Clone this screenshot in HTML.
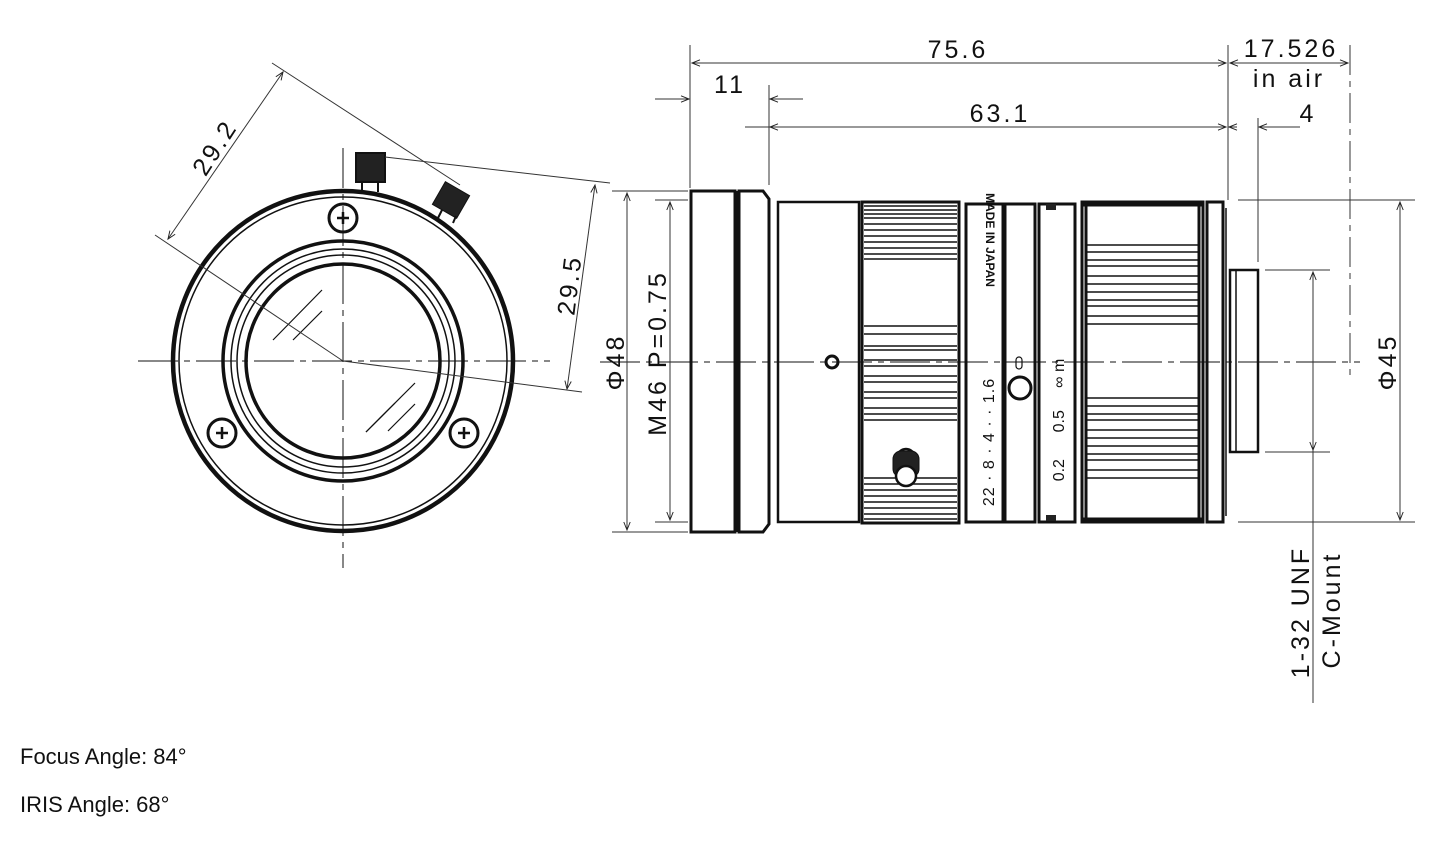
<!DOCTYPE html>
<html><head><meta charset="utf-8"><style>
html,body{margin:0;padding:0;background:#fff;width:1445px;height:848px;overflow:hidden}
svg{position:absolute;left:0;top:0}
.t{font-family:"Liberation Sans",sans-serif;font-size:22px;position:absolute;left:20px;color:#111}
</style></head><body>
<svg width="1445" height="848" viewBox="0 0 1445 848">
<defs>
<marker id="a" viewBox="0 0 10 10" refX="10" refY="5" markerWidth="12" markerHeight="8" orient="auto-start-reverse" markerUnits="userSpaceOnUse"><path d="M0,1 L10,5 L0,9" fill="none" stroke="#222" stroke-width="1.2"/></marker>
</defs>
<g fill="none" stroke="#111" font-family="Liberation Sans, sans-serif">
<!-- FRONT VIEW -->
<line x1="138" y1="361" x2="550" y2="361" stroke-width="1" stroke-dasharray="40,6,6,6"/>
<line x1="343" y1="148" x2="343" y2="568" stroke-width="1" stroke-dasharray="40,6,6,6"/>
<circle cx="343" cy="361" r="170" stroke-width="4.5"/>
<circle cx="343" cy="361" r="164" stroke-width="1.5"/>
<circle cx="343" cy="361" r="120" stroke-width="3.5"/>
<circle cx="343" cy="361" r="112" stroke-width="1.5"/>
<circle cx="343" cy="361" r="106" stroke-width="1.5"/>
<circle cx="343" cy="361" r="97" stroke-width="3.5"/>
<g stroke-width="1.2"><line x1="273" y1="340" x2="322" y2="290"/><line x1="293" y1="340" x2="322" y2="311"/><line x1="366" y1="432" x2="395" y2="403"/><line x1="366" y1="432" x2="415" y2="383"/><line x1="388" y1="431" x2="415" y2="404"/></g>
<g stroke-width="3"><circle cx="343" cy="218" r="14"/><circle cx="222" cy="433" r="14"/><circle cx="464" cy="433" r="14"/></g>
<g stroke-width="2.5"><path d="M337,218h12M343,212v12M216,433h12M222,427v12M458,433h12M464,427v12"/></g>
<rect x="356" y="153" width="29" height="29" fill="#222" stroke-width="2"/>
<path d="M362,182v10M378,182v10" stroke-width="2"/>
<rect x="437" y="187" width="28" height="26" fill="#222" transform="rotate(30 451 200)"/>
<path d="M442,210l-4,8M456,216l-3,7" stroke-width="2"/>
<g stroke-width="1" stroke="#333">
<line x1="272" y1="63" x2="460" y2="185"/>
<line x1="155" y1="235" x2="343" y2="361"/>
<line x1="283" y1="72" x2="168" y2="239" marker-start="url(#a)" marker-end="url(#a)"/>
<line x1="385" y1="157" x2="610" y2="183"/>
<line x1="343" y1="361" x2="582" y2="392"/>
<line x1="595" y1="185" x2="567" y2="389" marker-start="url(#a)" marker-end="url(#a)"/>
</g>
<text x="0" y="0" transform="translate(222,152) rotate(-57)" font-size="25" letter-spacing="3" fill="#111" stroke="none" text-anchor="middle">29.2</text>
<text x="0" y="0" transform="translate(578,286) rotate(-83)" font-size="25" letter-spacing="3" fill="#111" stroke="none" text-anchor="middle">29.5</text>

<!-- SIDE VIEW -->
<line x1="600" y1="362" x2="1360" y2="362" stroke-width="1" stroke-dasharray="40,6,6,6"/>
<rect x="691" y="191" width="44" height="341" stroke-width="3"/>
<path d="M739,191h24l6,8v325l-6,8h-24z" stroke-width="3"/>
<line x1="737" y1="191" x2="737" y2="532" stroke-width="3"/>
<rect x="778" y="202" width="81" height="320" stroke-width="2.5"/>
<circle cx="832" cy="362" r="6" stroke-width="3"/>
<rect x="862" y="202" width="97" height="321" stroke-width="3"/>
<g stroke-width="1.5">
<path d="M864,206h93M864,210h93M864,214h93M864,218h93M864,224h93M864,230h93M864,236h93M864,242h93M864,248h93M864,254h93M864,259h93"/>
<path d="M864,326h93M864,334h93M864,346h93M864,350h93M864,360h93M864,366h93M864,376h93M864,382h93M864,392h93M864,398h93M864,408h93M864,414h93M864,420h93"/>
<path d="M864,478h93M864,484h93M864,490h93M864,496h93M864,502h93M864,508h93M864,514h93M864,519h93"/>
</g>
<circle cx="906" cy="458" r="9" stroke-width="2.5"/>
<rect x="893" y="451" width="26" height="26" rx="8" fill="#222"/>
<circle cx="906" cy="476" r="10" fill="#fff" stroke-width="2.5"/>
<rect x="966" y="204" width="37" height="318" stroke-width="3"/>
<rect x="1005" y="204" width="30" height="318" stroke-width="3"/>
<rect x="1039" y="204" width="36" height="318" stroke-width="3"/>
<rect x="1046" y="204" width="10" height="6" fill="#222" stroke="none"/>
<rect x="1046" y="515" width="10" height="6" fill="#222" stroke="none"/>
<circle cx="1020" cy="388" r="11" stroke-width="3"/>
<rect x="1016" y="357" width="6" height="12" rx="3" stroke-width="1.2"/>
<g fill="#111" stroke="none" font-family="Liberation Sans Narrow, Liberation Sans, sans-serif">
<text transform="translate(986,240) rotate(90)" text-anchor="middle" font-size="12" font-weight="bold">MADE IN JAPAN</text>
<text transform="translate(994,442) rotate(-90)" text-anchor="middle" font-size="16" letter-spacing="1">22 · 8 · 4 · · 1.6</text>
<text transform="translate(1064,420) rotate(-90)" text-anchor="middle" font-size="16" xml:space="preserve">0.2      0.5     ∞ m</text>
</g>
<rect x="1082" y="202" width="121" height="320" stroke-width="3"/>
<path d="M1082,205h121M1082,519h121M1086,202v320M1199,202v320" stroke-width="3"/>
<g stroke-width="1.5">
<path d="M1086,245h113M1086,252h113M1086,260h113M1086,266h113M1086,276h113M1086,284h113M1086,292h113M1086,300h113M1086,306h113M1086,316h113M1086,324h113"/>
<path d="M1086,398h113M1086,406h113M1086,414h113M1086,420h113M1086,430h113M1086,438h113M1086,446h113M1086,454h113M1086,460h113M1086,470h113M1086,478h113"/>
</g>
<rect x="1207" y="202" width="16" height="320" stroke-width="3"/>
<line x1="1226" y1="208" x2="1226" y2="516" stroke-width="1.5"/>
<rect x="1230" y="270" width="28" height="182" stroke-width="2.5"/>
<line x1="1236" y1="270" x2="1236" y2="452" stroke-width="1.5"/>
<g stroke-width="1" stroke="#333">
<line x1="690" y1="45" x2="690" y2="188"/>
<line x1="1228" y1="45" x2="1228" y2="200"/>
<line x1="769" y1="85" x2="769" y2="185"/>
<line x1="1258" y1="118" x2="1258" y2="262"/>
<line x1="1350" y1="45" x2="1350" y2="378" stroke-dasharray="30,6,6,6"/>
<line x1="692" y1="63" x2="1226" y2="63" marker-start="url(#a)" marker-end="url(#a)"/>
<line x1="1230" y1="63" x2="1348" y2="63" marker-start="url(#a)" marker-end="url(#a)"/>
<line x1="655" y1="99" x2="689" y2="99" marker-end="url(#a)"/>
<line x1="803" y1="99" x2="770" y2="99" marker-end="url(#a)"/>
<line x1="745" y1="127" x2="770" y2="127"/>
<line x1="770" y1="127" x2="1226" y2="127" marker-start="url(#a)" marker-end="url(#a)"/>
<line x1="1237" y1="127" x2="1229" y2="127" marker-end="url(#a)"/>
<line x1="1300" y1="127" x2="1259" y2="127" marker-end="url(#a)"/>
<line x1="612" y1="191" x2="688" y2="191"/>
<line x1="612" y1="532" x2="688" y2="532"/>
<line x1="655" y1="200" x2="688" y2="200"/>
<line x1="655" y1="522" x2="688" y2="522"/>
<line x1="627" y1="193" x2="627" y2="530" marker-start="url(#a)" marker-end="url(#a)"/>
<line x1="670" y1="202" x2="670" y2="520" marker-start="url(#a)" marker-end="url(#a)"/>
<line x1="1238" y1="200" x2="1415" y2="200"/>
<line x1="1238" y1="522" x2="1415" y2="522"/>
<line x1="1400" y1="202" x2="1400" y2="520" marker-start="url(#a)" marker-end="url(#a)"/>
<line x1="1265" y1="270" x2="1330" y2="270"/>
<line x1="1265" y1="452" x2="1330" y2="452"/>
<line x1="1313" y1="272" x2="1313" y2="450" marker-start="url(#a)" marker-end="url(#a)"/>
<line x1="1313" y1="450" x2="1313" y2="703"/>
</g>
<g fill="#111" stroke="none" font-size="25" letter-spacing="3">
<text x="958" y="58" text-anchor="middle">75.6</text>
<text x="1291" y="57" text-anchor="middle">17.526</text>
<text x="1289" y="87" text-anchor="middle">in air</text>
<text x="730" y="93" text-anchor="middle">11</text>
<text x="1000" y="122" text-anchor="middle">63.1</text>
<text x="1308" y="122" text-anchor="middle">4</text>
<text transform="translate(624,362) rotate(-90)" text-anchor="middle">Φ48</text>
<text transform="translate(666,353) rotate(-90)" text-anchor="middle">M46 P=0.75</text>
<text transform="translate(1396,362) rotate(-90)" text-anchor="middle">Φ45</text>
<text transform="translate(1309,612) rotate(-90)" text-anchor="middle">1-32 UNF</text>
<text transform="translate(1340,610) rotate(-90)" text-anchor="middle">C-Mount</text>
</g>
</g>
</svg>
<div class="t" style="top:744px">Focus Angle: 84°</div>
<div class="t" style="top:792px">IRIS Angle: 68°</div>
</body></html>
